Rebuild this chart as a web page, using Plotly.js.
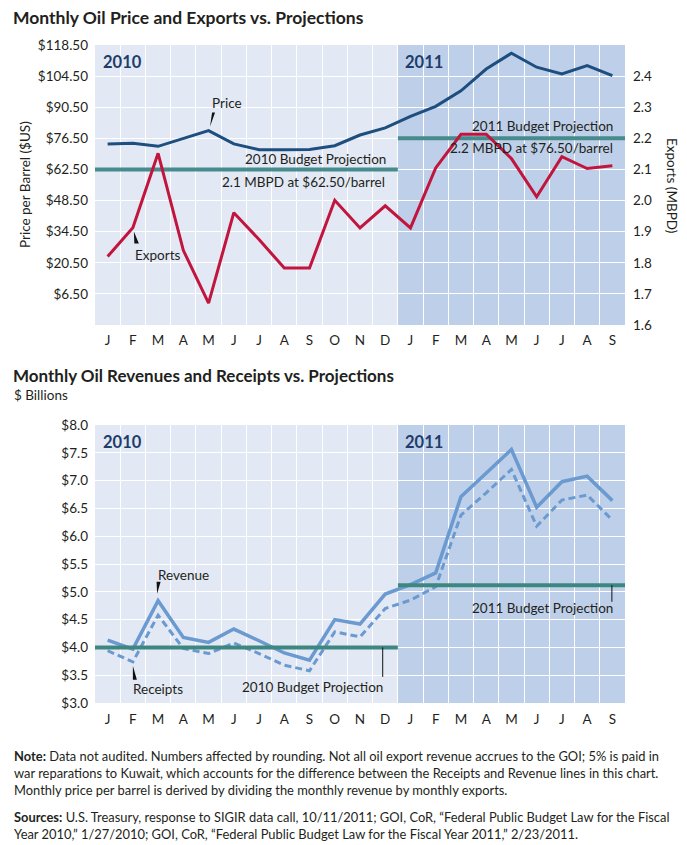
<!DOCTYPE html>
<html>
<head>
<meta charset="utf-8">
<script src="https://cdn.plot.ly/plotly-3.0.1.min.js"></script>
<style>html,body{margin:0;padding:0;background:#fff;}#chart{width:687px;height:845px;}</style>
</head>
<body>
<div id="chart"></div>
<script>
// ---- Data ----
const months = ['J','F','M','A','M','J','J','A','S','O','N','D','J','F','M','A','M','J','J','A','S'];
const priceValues = [74, 74.3, 72.9, 76.5, 80, 74, 71.4, 71.4, 71.5, 73.2, 78, 81.2, 86.4, 90.9, 97.9, 107.7, 114.8, 108.5, 105.5, 109.2, 104.7];
const exportValues = [1.82, 1.913, 2.152, 1.84, 1.67, 1.961, 1.875, 1.783, 1.783, 2.001, 1.912, 1.983, 1.912, 2.105, 2.213, 2.213, 2.135, 2.012, 2.141, 2.103, 2.112];
const revenueValues = [4.13, 3.97, 4.84, 4.18, 4.09, 4.33, 4.12, 3.90, 3.77, 4.50, 4.42, 4.96, 5.13, 5.34, 6.71, 7.14, 7.56, 6.52, 6.98, 7.08, 6.64];
const receiptValues = [3.94, 3.74, 4.58, 3.98, 3.89, 4.08, 3.89, 3.68, 3.58, 4.28, 4.19, 4.70, 4.85, 5.09, 6.38, 6.78, 7.20, 6.18, 6.65, 6.74, 6.29];
const budgetPrice = [62.5, 76.5];      // 2010, 2011 $/barrel
const budgetExports = [2.1, 2.2];      // 2010, 2011 MBPD
const budgetRevenue = [4.0, 5.12];     // 2010, 2011 $ billions
const priceTicks = [6.5, 20.5, 34.5, 48.5, 62.5, 76.5, 90.5, 104.5, 118.5];
const exportTicks = [1.6, 1.7, 1.8, 1.9, 2.0, 2.1, 2.2, 2.3, 2.4];
const revenueTicks = [3.0, 3.5, 4.0, 4.5, 5.0, 5.5, 6.0, 6.5, 7.0, 7.5, 8.0];
const years = ['2010', '2011'];

// ---- Style ----
const FONT = 'Lato, "Open Sans", sans-serif';
const TXT = '#231f20';
const BG2010 = '#e2e9f4', BG2011 = '#bed0e9';
const idx = months.map((m, i) => i);
const W = 687, H = 845;
const px = v => v / W, py = v => 1 - v / H;

const traces = [
  {x: [-0.5, 11.5], y: [budgetPrice[0], budgetPrice[0]], xaxis: 'x', yaxis: 'y', mode: 'lines', line: {color: '#478b8d', width: 4}, hoverinfo: 'skip', cliponaxis: false},
  {x: [11.5, 20.5], y: [budgetPrice[1], budgetPrice[1]], xaxis: 'x', yaxis: 'y', mode: 'lines', line: {color: '#478b8d', width: 4}, hoverinfo: 'skip', cliponaxis: false},
  {x: idx, y: priceValues, xaxis: 'x', yaxis: 'y', mode: 'lines', name: 'Price', line: {color: '#1d4e7e', width: 3}},
  {x: idx, y: exportValues, xaxis: 'x', yaxis: 'y2', mode: 'lines', name: 'Exports', line: {color: '#c1153d', width: 3}},
  {x: idx, y: receiptValues, xaxis: 'x2', yaxis: 'y3', mode: 'lines', name: 'Receipts', line: {color: '#6a9ad0', width: 3, dash: '7px,4px'}},
  {x: idx, y: revenueValues, xaxis: 'x2', yaxis: 'y3', mode: 'lines', name: 'Revenue', line: {color: '#6a9ad0', width: 3.5}},
  {x: [-0.55, 11.5], y: [budgetRevenue[0], budgetRevenue[0]], xaxis: 'x2', yaxis: 'y3', mode: 'lines', line: {color: '#3e8781', width: 4}, hoverinfo: 'skip', cliponaxis: false},
  {x: [11.5, 20.5], y: [budgetRevenue[1], budgetRevenue[1]], xaxis: 'x2', yaxis: 'y3', mode: 'lines', line: {color: '#3e8781', width: 4}, hoverinfo: 'skip', cliponaxis: false}
];

const tickFont = {family: FONT, size: 13.5, color: TXT};
const xCommon = {
  range: [-0.5, 20.5], tickmode: 'array', tickvals: idx, ticktext: months,
  showgrid: false, zeroline: false, showline: false, ticks: '', ticklabelstandoff: 5,
  tickfont: tickFont,
  minor: {tick0: 0.5, dtick: 1, showgrid: true, gridcolor: '#ffffff', gridwidth: 1, ticks: ''},
  fixedrange: true
};

const dom = [px(95), px(625)];
const layout = {
  width: W, height: H, margin: {l: 0, r: 0, t: 0, b: 0},
  paper_bgcolor: '#ffffff', plot_bgcolor: BG2010, showlegend: false,
  font: {family: FONT, color: TXT},
  xaxis: Object.assign({}, xCommon, {domain: dom, anchor: 'y'}),
  yaxis: {domain: [py(325), py(45)], anchor: 'x', range: [-7.5, 118.5], tickmode: 'array', tickvals: priceTicks,
    ticktext: priceTicks.map(v => '$' + v.toFixed(2)), ticklabelstandoff: 6,
    showgrid: true, gridcolor: '#ffffff', gridwidth: 1, zeroline: false, ticks: '',
    tickfont: tickFont, fixedrange: true},
  yaxis2: {overlaying: 'y', side: 'right', anchor: 'x', range: [1.6, 2.5], tickmode: 'array', tickvals: exportTicks,
    ticktext: exportTicks.map(v => v.toFixed(1)), ticklabelstandoff: 7,
    showgrid: false, zeroline: false, ticks: '',
    tickfont: tickFont, fixedrange: true},
  xaxis2: Object.assign({}, xCommon, {domain: dom, anchor: 'y3', ticklabelstandoff: 6}),
  yaxis3: {domain: [py(703), py(425)], anchor: 'x2', range: [3, 8], tickmode: 'array', tickvals: revenueTicks,
    ticktext: revenueTicks.map(v => '$' + v.toFixed(1)), ticklabelstandoff: 6,
    showgrid: true, gridcolor: '#ffffff', gridwidth: 1, zeroline: false, ticks: '',
    tickfont: tickFont, fixedrange: true},
  shapes: [
    {type: 'rect', xref: 'x', yref: 'y domain', x0: 11.5, x1: 20.5, y0: 0, y1: 1, fillcolor: BG2011, line: {width: 0}, layer: 'below'},
    {type: 'rect', xref: 'x2', yref: 'y3 domain', x0: 11.5, x1: 20.5, y0: 0, y1: 1, fillcolor: BG2011, line: {width: 0}, layer: 'below'},
    {type: 'path', xref: 'x', yref: 'y', xsizemode: 'pixel', ysizemode: 'pixel', xanchor: 4, yanchor: priceValues[4],
      path: 'M 1.5,4 L 3.5,18 L 6.5,18 Z', fillcolor: '#111', line: {width: 0}},
    {type: 'path', xref: 'x', yref: 'y2', xsizemode: 'pixel', ysizemode: 'pixel', xanchor: 1, yanchor: exportValues[1],
      path: 'M 1,-4 L 1.5,-16 L 6,-16 Z', fillcolor: '#111', line: {width: 0}},
    {type: 'path', xref: 'x2', yref: 'y3', xsizemode: 'pixel', ysizemode: 'pixel', xanchor: 2, yanchor: revenueValues[2],
      path: 'M -1,7 L -1.5,19 L 2.5,19 Z', fillcolor: '#111', line: {width: 0}},
    {type: 'path', xref: 'x2', yref: 'y3', xsizemode: 'pixel', ysizemode: 'pixel', xanchor: 1, yanchor: receiptValues[1],
      path: 'M 0,-4 L 0,-18 L 4,-18 Z', fillcolor: '#111', line: {width: 0}},
    {type: 'line', xref: 'x2', yref: 'y3', x0: 10.9, x1: 10.9, y0: budgetRevenue[0], y1: 3.47, line: {color: '#111', width: 1}},
    {type: 'line', xref: 'x2', yref: 'y3', x0: 19.98, x1: 19.98, y0: budgetRevenue[1], y1: 4.82, line: {color: '#111', width: 1}}
  ],
  annotations: []
};

const A = layout.annotations;
function txt(text, x, y, opts) {
  A.push(Object.assign({text: text, x: x, y: y, xref: 'paper', yref: 'paper', showarrow: false, borderpad: 0,
    xanchor: 'left', yanchor: 'middle', font: {family: FONT, size: 13, color: TXT}}, opts || {}));
}
txt('<b>Monthly Oil Price and Exports vs. Projections</b>', px(12), py(17), {font: {family: FONT, size: 17.5, color: TXT}});
txt('<b>Monthly Oil Revenues and Receipts vs. Projections</b>', px(12), py(375.5), {font: {family: FONT, size: 17, color: TXT}});
txt('$ Billions', px(13), py(395.5), {font: {family: FONT, size: 13.5, color: TXT}});
txt('Price per Barrel ($US)', px(25), py(185), {textangle: -90, xanchor: 'center', font: {family: FONT, size: 13.5, color: TXT}});
txt('Exports (MBPD)', px(672), py(185), {textangle: 90, xanchor: 'center', font: {family: FONT, size: 13.5, color: TXT}});
[['x', 'y domain'], ['x2', 'y3 domain']].forEach(function (r) {
  A.push({text: '<b>' + years[0] + '</b>', xref: r[0], yref: r[1], x: -0.28, y: 0.94, xanchor: 'left', yanchor: 'middle', showarrow: false, font: {family: FONT, size: 16.5, color: '#1f3c6b'}});
  A.push({text: '<b>' + years[1] + '</b>', xref: r[0], yref: r[1], x: 11.72, y: 0.94, xanchor: 'left', yanchor: 'middle', showarrow: false, font: {family: FONT, size: 16.5, color: '#1f3c6b'}});
});
function dtxt(text, xr, yr, x, y, xa) {
  A.push({text: text, xref: xr, yref: yr, x: x, y: y, xanchor: xa, yanchor: 'middle', showarrow: false, font: {family: FONT, size: 13.5, color: TXT}});
}
dtxt('Price', 'x', 'y', 4.06, 92.4, 'left');
dtxt('Exports', 'x', 'y', 1.0, 24.0, 'left');
dtxt('2010 Budget Projection', 'x', 'y', 11.1, 67.2, 'right');
dtxt('2.1 MBPD at $62.50/barrel', 'x', 'y', 11.05, 56.9, 'right');
dtxt('2011 Budget Projection', 'x', 'y', 20.1, 82.0, 'right');
dtxt('2.2 MBPD at $76.50/barrel', 'x', 'y', 20.1, 72.2, 'right');
dtxt('Revenue', 'x2', 'y3', 1.92, 5.30, 'left');
dtxt('Receipts', 'x2', 'y3', 0.93, 3.25, 'left');
dtxt('2010 Budget Projection', 'x2', 'y3', 10.98, 3.29, 'right');
dtxt('2011 Budget Projection', 'x2', 'y3', 20.12, 4.71, 'right');
const noteFont = {family: FONT, size: 12.9, color: TXT};
txt('<b>Note:</b> Data not audited. Numbers affected by rounding. Not all oil export revenue accrues to the GOI; 5% is paid in', px(13), py(756), {font: noteFont});
txt('war reparations to Kuwait, which accounts for the difference between the Receipts and Revenue lines in this chart.', px(13), py(773), {font: noteFont});
txt('Monthly price per barrel is derived by dividing the monthly revenue by monthly exports.', px(13), py(790), {font: noteFont});
txt('<b>Sources:</b> U.S. Treasury, response to SIGIR data call, 10/11/2011; GOI, CoR, \u201CFederal Public Budget Law for the Fiscal', px(13), py(817), {font: noteFont});
txt('Year 2010,\u201D 1/27/2010; GOI, CoR, \u201CFederal Public Budget Law for the Fiscal Year 2011,\u201D 2/23/2011.', px(13), py(834), {font: noteFont});

Plotly.newPlot('chart', traces, layout, {displayModeBar: false, staticPlot: true});
</script>
</body>
</html>
